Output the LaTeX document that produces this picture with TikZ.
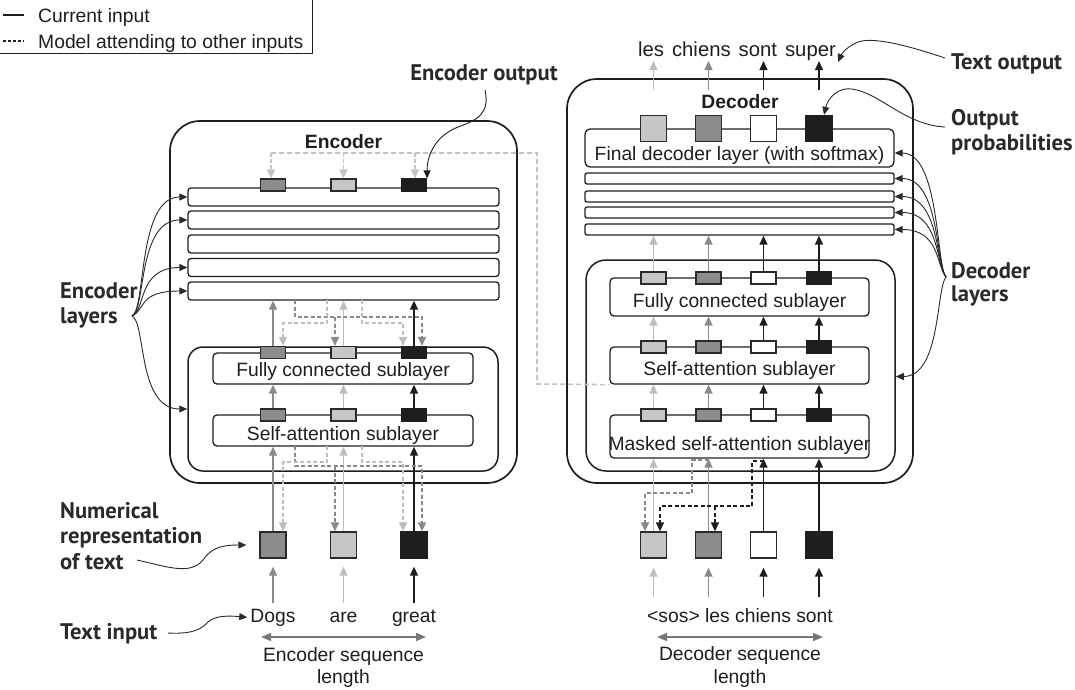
\documentclass[tikz,border=0pt]{standalone}
\usepackage{fontspec}
\setmainfont{Liberation Sans}
\newfontfamily\annfont{PT Sans}
\usetikzlibrary{arrows.meta}
\definecolor{cL}{HTML}{BDBDBD}
\definecolor{cD}{HTML}{8A8A8A}
\definecolor{cK}{HTML}{1E1E1E}
\definecolor{fL}{HTML}{C6C6C6}
\definecolor{fD}{HTML}{8C8C8C}
\definecolor{cE}{HTML}{C4C4C4}
\definecolor{cS}{HTML}{777777}
\definecolor{cA}{HTML}{2A2A2A}
\begin{document}
\begin{tikzpicture}[x=1pt,y=-1pt,
  arrtip/.style={-{Triangle[length=9pt,width=8pt]}},
  sarrtip/.style={-{Triangle[length=8pt,width=7pt]}},
  lbl/.style={font=\fontsize{19.3}{22}\selectfont, text=cK, inner sep=0pt},
  ttl/.style={font=\bfseries\fontsize{19.3}{22}\selectfont, text=cK, inner sep=0pt},
  ann/.style={font=\annfont\bfseries\fontsize{22.6}{25}\selectfont, text=cA, inner sep=0pt, anchor=base west},
  bigbox/.style={draw=cK, line width=1.7pt, rounded corners=30pt, inner sep=0pt},
  blockbox/.style={draw=cK, line width=1.5pt, inner sep=0pt},
  lbar/.style={draw=cK, line width=1.3pt, rounded corners=3pt, inner sep=0pt},
  sub/.style={draw=cK, line width=1.3pt, rounded corners=4pt, inner sep=0pt},
  tok/.style={line width=1.2pt, minimum width=25pt, minimum height=12pt, inner sep=0pt},
  sq/.style={line width=1.3pt, minimum width=26pt, minimum height=26pt, inner sep=0pt},
  uparr/.style={line width=1.4pt, arrtip},
  dsh/.style={line width=1.3pt, dash pattern=on 4pt off 2.5pt},
  annline/.style={draw=cA, line width=0.9pt, sarrtip},
]
\useasboundingbox (0,0) rectangle (1075,689);

% ---------- legend
\node[draw=cK, line width=1.3pt, minimum width=320pt, minimum height=60pt, inner sep=0pt, anchor=south east] (legend) at (313,54) {};
\draw[cK, line width=1.2pt] (3,15) -- (24,15);
\draw[cK, line width=1.2pt, dash pattern=on 3pt off 2pt] (3,41) -- (24,41);
\node[lbl, anchor=base west] (lgA) at (38,22.5) {Current input};
\node[lbl, anchor=base west] (lgB) at (38,48) {Model attending to other inputs};

% ---------- encoder nodes
\node[bigbox, minimum width=347pt, minimum height=362pt] (encOuter) at (343.5,302) {};
\node[ttl, anchor=base] (encTitle) at (343.5,148.3) {Encoder};
\foreach \y [count=\i] in {197,220,244,267.5,291}
  \node[lbar, minimum width=311pt, minimum height=18pt] (encBar\i) at (343.5,\y) {};
\node[blockbox, rounded corners=15pt, minimum width=310pt, minimum height=124pt] (encInner) at (343,409) {};
\node[sub, minimum width=260pt, minimum height=31pt] (encFC) at (343,368.5) {};
\node[lbl, anchor=base] (encFCt) at (343,376) {Fully connected sublayer};
\node[sub, minimum width=260pt, minimum height=31pt] (encSA) at (343,430.5) {};
\node[lbl, anchor=base] (encSAt) at (343,440) {Self-attention sublayer};
\foreach \x/\f/\d [count=\i] in {273/fD/cA,343.5/fL/cA,414/cK/cK} {
  \node[tok, fill=\f, draw=\d] (encO\i) at (\x,185) {};
  \node[tok, fill=\f, draw=\d] (encF\i) at (\x,352.5) {};
  \node[tok, fill=\f, draw=\d] (encS\i) at (\x,415) {};
  \node[sq, fill=\f, draw=\d] (encX\i) at (\x,545) {};
}
\node[lbl, anchor=base] (encW1) at (273,622) {Dogs};
\node[lbl, anchor=base] (encW2) at (343.5,622) {are};
\node[lbl, anchor=base] (encW3) at (414,622) {great};
\node[lbl, anchor=base] (esT1) at (343.5,661) {Encoder sequence};
\node[lbl, anchor=base] (esT2) at (343.5,683.5) {length};

% ---------- decoder nodes
\node[bigbox, minimum width=346pt, minimum height=404pt] (decOuter) at (740,281) {};
\node[ttl, anchor=base] (decTitle) at (740,108.3) {Decoder};
\node[sub, rounded corners=5pt, minimum width=309pt, minimum height=38pt] (decFin) at (739.5,148) {};
\node[lbl, anchor=base] (decFint) at (739.5,160) {Final decoder layer (with softmax)};
\foreach \y [count=\i] in {178.5,196.5,212.5,229.5}
  \node[lbar, rounded corners=2pt, minimum width=309pt, minimum height=11pt] (decBar\i) at (739.5,\y) {};
\node[blockbox, rounded corners=20pt, minimum width=309pt, minimum height=211pt] (decInner) at (740.5,365.5) {};
\node[sub, minimum width=259pt, minimum height=38pt] (decFC) at (739.5,297) {};
\node[lbl, anchor=base] (decFCt) at (739.5,307) {Fully connected sublayer};
\node[sub, minimum width=259pt, minimum height=37pt] (decSA) at (739.5,365.5) {};
\node[lbl, anchor=base] (decSAt) at (739.5,375) {Self-attention sublayer};
\node[sub, minimum width=259pt, minimum height=43pt] (decMSA) at (739.5,436.5) {};
\node[lbl, anchor=base] (decMSAt) at (739.5,450) {Masked self-attention sublayer};
\foreach \x/\f/\d [count=\i] in {653.5/fL/cA,708.5/fD/cA,763.5/white/cA,819/cK/cK} {
  \node[sq, fill=\f, draw=\d] (decP\i) at (\x,128.5) {};
  \node[tok, fill=\f, draw=\d] (decF\i) at (\x,278) {};
  \node[tok, fill=\f, draw=\d] (decS\i) at (\x,347) {};
  \node[tok, fill=\f, draw=\d] (decM\i) at (\x,415) {};
  \node[sq, fill=\f, draw=\d] (decX\i) at (\x,545) {};
}
\node[lbl, anchor=base] (decIn) at (740,622) {<sos> les chiens sont};
\node[lbl, font=\fontsize{20.3}{22}\selectfont, anchor=base] (decOutT) at (737,56) {\spaceskip=8pt les chiens sont super};
\node[lbl, anchor=base] (dsT1) at (740,660) {Decoder sequence};
\node[lbl, anchor=base] (dsT2) at (740,683) {length};

% ---------- annotation labels
\node[ann, anchor=base] (encOut) at (484,80.7) {Encoder output};
\node[ann] (encLay1) at (60,298.3) {Encoder};
\node[ann] (encLay2) at (60,323.3) {layers};
\node[ann] (num1) at (60,518.3) {Numerical};
\node[ann] (num2) at (60,543.3) {representation};
\node[ann] (num3) at (60,569.3) {of text};
\node[ann] (txtIn) at (60,639.3) {Text input};
\node[ann] (txtOut) at (951,69.3) {Text output};
\node[ann] (outP1) at (951,125) {Output};
\node[ann] (outP2) at (951,150) {probabilities};
\node[ann] (decLay1) at (951,278.3) {Decoder};
\node[ann] (decLay2) at (951,301.7) {layers};

% ---------- encoder connectors
\coordinate (eWB) at (0,603);
\foreach \i/\c in {1/cD,2/cL,3/cK} {
  \draw[uparr, color=\c, shorten >=8pt] (encX\i |- eWB) -- (encX\i.south);
  \draw[uparr, color=\c] (encX\i.north) -- (encSA.south -| encX\i);
  \draw[uparr, color=\c] (encS\i.north) -- (encFC.south -| encS\i);
  \draw[uparr, color=\c] (encF\i.north) -- (encBar5.south -| encF\i);
}
% attention (lower)
\draw[dsh, color=cD, arrtip] (295,446) -- (295,466) -- (422,466) -- ([xshift=8pt]encX3.north);
\draw[dsh, color=cD, arrtip] (335,466) -- ([xshift=-8.5pt]encX2.north);
\draw[dsh, color=cL, arrtip] (327,446) -- (327,462) -- (283,462) -- ([xshift=10pt]encX1.north);
\draw[dsh, color=cL, arrtip] (362,446) -- (362,462) -- (403,462) -- ([xshift=-11pt]encX3.north);
% attention (upper)
\draw[dsh, color=cD, arrtip] (295,300) -- (295,317) -- (422,317) -- ([xshift=8pt]encF3.north);
\draw[dsh, color=cD, arrtip] (335,317) -- ([xshift=-8.5pt]encF2.north);
\draw[dsh, color=cL, arrtip] (327,300) -- (327,323) -- (283,323) -- ([xshift=10pt]encF1.north);
\draw[dsh, color=cL, arrtip] (362,300) -- (362,323) -- (403,323) -- ([xshift=-11pt]encF3.north);
% encoder output to decoder
\draw[color=cE, line width=1.6pt, dash pattern=on 5pt off 3pt] (271,153) -- (537,153) -- (537,384) -- (decSA.south west);
\draw[color=cE, line width=1.5pt, dash pattern=on 4pt off 2pt, arrtip] (271,153) -- ([xshift=-2pt]encO1.north);
\draw[color=cE, line width=1.5pt, dash pattern=on 4pt off 2pt, arrtip] (343.5,153) -- (encO2.north);
\draw[color=cE, line width=1.5pt, dash pattern=on 4pt off 2pt, arrtip] (415,153) -- ([xshift=1pt]encO3.north);

% ---------- decoder connectors
\coordinate (dWB) at (0,597);
\coordinate (dOA) at (0,90);
\coordinate (dOB) at (0,61);
\foreach \i/\c in {1/cL,2/cD,3/cK,4/cK} {
  \draw[uparr, color=\c, shorten >=9pt] (decX\i |- dWB) -- (decX\i.south);
  \draw[uparr, color=\c] (decX\i.north) -- (decMSA.south -| decX\i);
  \draw[uparr, color=\c] (decM\i.north) -- (decSA.south -| decM\i);
  \draw[uparr, color=\c] (decS\i.north) -- (decFC.south -| decS\i);
  \draw[uparr, color=\c] (decF\i.north) -- (decBar4.south -| decF\i);
  \draw[uparr, color=\c] (decP\i |- dOA) -- (decP\i |- dOB);
}
\draw[dsh, color=cD, arrtip] (708.5,460) -- (692,460) -- (692,493) -- (645,493) -- ([xshift=-8.5pt]decX1.north);
\draw[dsh, color=cK, arrtip] (763.5,461) -- (752,461) -- (752,506) -- (660,506) -- ([xshift=6.5pt]decX1.north);
\draw[dsh, color=cK, arrtip] (715,506) -- ([xshift=6.5pt]decX2.north);

% ---------- sequence-length arrows
\coordinate (esL) at (261,637); \coordinate (esR) at (426,637);
\coordinate (dsL) at (657,637); \coordinate (dsR) at (823,637);
\draw[cS, line width=1.5pt, {Triangle[length=10pt,width=8pt]}-{Triangle[length=10pt,width=8pt]}] (esL) -- (esR);
\draw[cS, line width=1.5pt, {Triangle[length=10pt,width=8pt]}-{Triangle[length=10pt,width=8pt]}] (dsL) -- (dsR);

% ---------- annotation curves
\coordinate (eoStart) at (485,90);
\draw[annline, draw=cK] (eoStart) .. controls (490,113) and (478,120) .. (458,127) .. controls (433,137) and (427,158) .. (encO3.north east);
\coordinate (encTip) at (132,316);
\foreach \t in {encBar1,encBar2,encBar4,encBar5}
  \draw[annline] (encTip) .. controls (146,310) and ([xshift=-50pt]\t.west) .. (\t.west);
\draw[annline] (encTip) .. controls (146,322) and ([xshift=-50pt]encInner.west) .. (encInner.west);
\coordinate (decTip) at (946,277);
\draw[annline] (decTip) .. controls (936,265) and ([xshift=45pt,yshift=-5pt]decFin.east) .. ([yshift=-5pt]decFin.east);
\foreach \t in {decBar1,decBar2,decBar3,decBar4}
  \draw[annline] (decTip) .. controls (936,265) and ([xshift=45pt]\t.east) .. (\t.east);
\draw[annline] (decTip) .. controls (936,289) and ([xshift=45pt,yshift=-11pt]decInner.east) .. ([yshift=-11pt]decInner.east);
\coordinate (numStart) at (137,560);
\draw[annline] (numStart) .. controls (165,566) and (190,576) .. (203,560) .. controls (210,550) and (218,545) .. ([xshift=-13pt]encX1.west);
\coordinate (tiStart) at (168,633);
\draw[annline] (tiStart) .. controls (185,634) and (198,632) .. (206,624) .. controls (212,617) and (222,615) .. ([xshift=-3pt]encW1.west);
\coordinate (toStart) at (945,58);
\coordinate (toEnd) at (838,62);
\draw[annline] (toStart) .. controls (915,48) and (875,36) .. (858,42) .. controls (848,46) and (842,53) .. (toEnd);
\coordinate (opStart) at (945,127);
\draw[annline] (opStart) .. controls (905,125) and (880,93) .. (852,89) .. controls (838,87) and (828,98) .. ([xshift=5pt]decP4.north);
\end{tikzpicture}
\end{document}
